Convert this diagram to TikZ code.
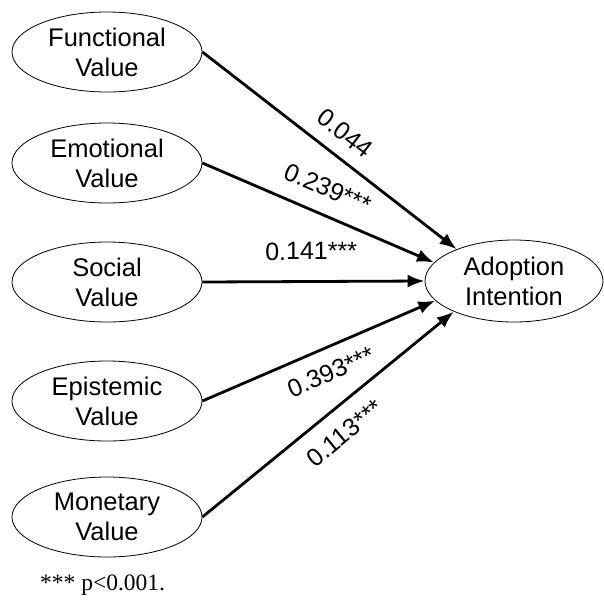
\documentclass[tikz,border=0pt]{standalone}
\usepackage{fontspec}
\setmainfont{Liberation Serif}
\newfontfamily\arialfont{Liberation Sans}
\usetikzlibrary{shapes.geometric}
\usetikzlibrary{arrows.meta}

\begin{document}
\begin{tikzpicture}[x=1pt,y=-1pt,
		latent/.style={draw,ellipse,line width=0.8pt,inner sep=0pt,minimum width=190pt,minimum height=80pt,align=center,font=\arialfont\fontsize{25.5}{30}\selectfont},
		effect/.style={line width=2.8pt,-{Latex[length=17pt,width=13pt]}},
		coef/.style={sloped,inner sep=0pt,font=\arialfont\fontsize{25}{30}\selectfont}]
		\useasboundingbox (0,0) rectangle (604,603);
		
		\node[latent] (fv) at (107,52) {Functional\\Value};
		\node[latent] (ev) at (107,163) {Emotional\\Value};
		\node[latent] (sv) at (107,282) {Social\\Value};
		\node[latent] (pv) at (107,401) {Epistemic\\Value};
		\node[latent] (mv) at (107,517) {Monetary\\Value};
		\node[latent,minimum width=178pt,minimum height=82pt] (ai) at (514,281) {Adoption\\Intention};
		
		\draw[effect] (fv.east) -- node[coef,above=13pt,pos=.505] (c1) {0.044} (ai.151);
		\draw[effect] (ev.east) -- node[coef,above=16pt,pos=.496] (c2) {0.239***} (ai.167.5);
		\draw[effect] (sv.east) -- node[coef,above=20pt,pos=.49] (c3) {0.141***} (ai.180);
		\draw[effect] (pv.east) -- node[coef,below=14pt,pos=.51] (c4) {0.393***} (ai.194.5);
		\draw[effect] (mv.east) -- node[coef,below=15pt,pos=.503] (c5) {0.113***} (ai.207);
		
		\node[anchor=base west,inner sep=0pt,font=\fontsize{23.5}{28}\selectfont] (note) at (40,590) {*** p<0.001.};
\end{tikzpicture}
\end{document}
